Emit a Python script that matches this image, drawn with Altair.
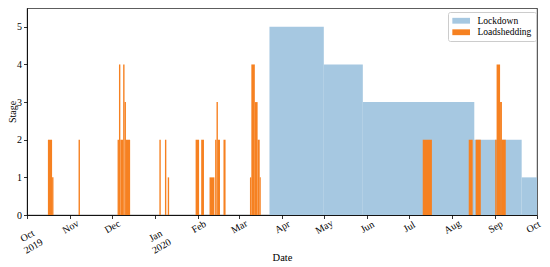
import altair as alt
import pandas as pd

# Lockdown levels (step periods)
lock_start = ["2020-03-23", "2020-05-01", "2020-05-29", "2020-08-17", "2020-09-20"]
lock_end = ["2020-05-01", "2020-05-29", "2020-08-17", "2020-09-20", "2020-10-01"]
lock_level = [5, 4, 3, 2, 1]

# Loadshedding periods
ls_start = ["2019-10-16", "2019-10-19", "2019-11-07",
            "2019-12-05", "2019-12-06", "2019-12-07", "2019-12-09", "2019-12-10", "2019-12-11",
            "2020-01-04", "2020-01-08", "2020-01-10",
            "2020-01-30", "2020-02-03", "2020-02-09", "2020-02-13", "2020-02-14", "2020-02-15", "2020-02-19",
            "2020-03-09", "2020-03-10", "2020-03-12 12:00", "2020-03-14 12:00", "2020-03-16",
            "2020-07-11", "2020-08-13", "2020-08-18",
            "2020-09-01", "2020-09-02", "2020-09-04 12:00", "2020-09-05 20:00"]
ls_end = ["2019-10-19", "2019-10-20", "2019-11-08",
          "2019-12-06", "2019-12-07", "2019-12-09", "2019-12-10", "2019-12-11", "2019-12-14",
          "2020-01-05", "2020-01-09", "2020-01-11",
          "2020-02-01 12:00", "2020-02-05", "2020-02-12 12:00", "2020-02-14", "2020-02-15", "2020-02-16 12:00", "2020-02-20 12:00",
          "2020-03-10", "2020-03-12 12:00", "2020-03-14 12:00", "2020-03-16", "2020-03-16 18:00",
          "2020-07-17 14:00", "2020-08-15 20:00", "2020-08-21 16:00",
          "2020-09-02", "2020-09-04 12:00", "2020-09-05 20:00", "2020-09-08 14:00"]
ls_stage = [2, 1, 2,
            2, 4, 2, 4, 3, 2,
            2, 2, 1,
            2, 2, 1, 2, 3, 2, 2,
            1, 4, 3, 2, 1,
            2, 2, 2,
            2, 4, 3, 2]

month_ticks = ["2019-10-01", "2019-11-01", "2019-12-01", "2020-01-01", "2020-02-01",
               "2020-03-01", "2020-04-01", "2020-05-01", "2020-06-01", "2020-07-01",
               "2020-08-01", "2020-09-01", "2020-10-01"]

series_names = ["Lockdown", "Loadshedding"]
series_colors = ["#a6c8e1", "#f68121"]

lock_df = pd.DataFrame({
    "start": pd.to_datetime(lock_start, format="mixed"), "end": pd.to_datetime(lock_end, format="mixed"),
    "stage": lock_level, "series": "Lockdown"})
ls_df = pd.DataFrame({
    "start": pd.to_datetime(ls_start, format="mixed"), "end": pd.to_datetime(ls_end, format="mixed"),
    "stage": ls_stage, "series": "Loadshedding"})

tick_vals = [alt.DateTime(year=int(s[:4]), month=int(s[5:7]), date=1) for s in month_ticks]

FONT = "Liberation Serif"
year_test = "month(datum.value) == 0 || (month(datum.value) == 9 && year(datum.value) == 2019)"
last_test = "month(datum.value) == 9 && year(datum.value) == 2020"

x_enc = alt.X(
    "start:T",
    scale=alt.Scale(domain=[tick_vals[0], tick_vals[-1]]),
    axis=alt.Axis(
        values=tick_vals,
        labelExpr="(" + year_test + ") ? [timeFormat(datum.value, '%b'), timeFormat(datum.value, '%Y')] : timeFormat(datum.value, '%b')",
        labelAngle=330, labelAlign="center", labelBaseline="middle",
        labelPadding={"condition": {"test": year_test, "value": 17}, "value": 8},
        labelOffset={"condition": {"test": last_test, "value": -4}, "value": 0},
        tickSize=3.5, labelFontSize=10, grid=False,
        title="Date", titleY=42, titleBaseline="middle",
        labelFlush=False, labelOverlap=False,
    ),
)
y_enc = alt.Y(
    "stage:Q",
    scale=alt.Scale(domain=[0, 5.5], nice=False),
    axis=alt.Axis(values=[0, 1, 2, 3, 4, 5], tickSize=3.5, labelFontSize=10, grid=False,
                  labelPadding=2, title="Stage", titleX=-15, titleY=103.5,
                  titleAngle=270, titleBaseline="middle", titleFontSize=10),
)
color_enc = alt.Color(
    "series:N",
    scale=alt.Scale(domain=series_names, range=series_colors),
    legend=alt.Legend(
        title=None, orient="none", legendX=421, legendY=4,
        symbolType="M-1,-0.66H3V0.66H-1Z", symbolSize=78, symbolStrokeWidth=0,
        symbolOpacity=1, labelOffset=16, labelFontSize=9.5, labelFont=FONT,
        padding=4, rowPadding=0.5, strokeColor="#cccccc", fillColor="white",
        cornerRadius=2, labelColor="black",
    ),
)

lock = alt.Chart(lock_df).mark_rect(opacity=1).encode(
    x=x_enc, x2="end:T", y=y_enc, y2=alt.datum(0), color=color_enc)
ls = alt.Chart(ls_df).mark_rect(opacity=1).encode(
    x="start:T", x2="end:T", y="stage:Q", y2=alt.datum(0), color="series:N")

chart = alt.layer(lock, ls).properties(
    width=510, height=207,
    autosize=alt.AutoSizeParams(type="none"),
    padding={"left": 19, "top": 0, "right": 5, "bottom": 48},
).configure_view(stroke="black", strokeWidth=0.8).configure_axis(
    labelFont=FONT, titleFont=FONT, titleFontSize=10.5, titleFontWeight="normal",
    labelColor="black", titleColor="black", domainColor="black", tickColor="black",
    domainWidth=0.8, tickWidth=0.8,
)

chart.save("out.html", embed_options={"renderer": "svg", "actions": False})
